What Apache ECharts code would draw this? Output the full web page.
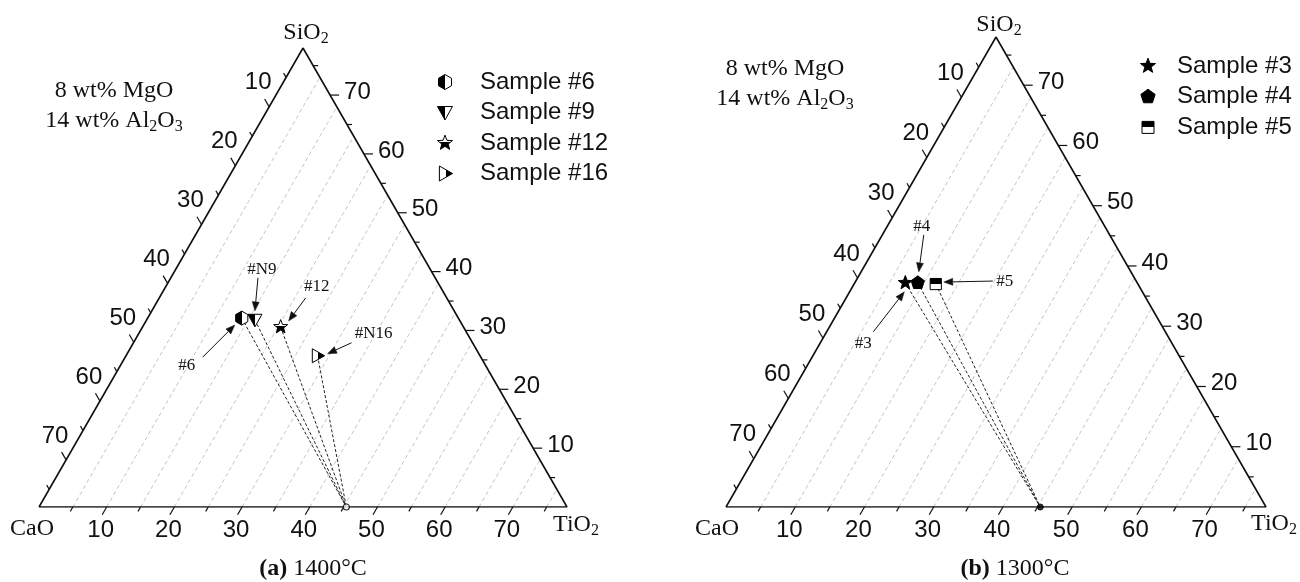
<!DOCTYPE html>
<html>
<head>
<meta charset="utf-8">
<script src="https://cdn.jsdelivr.net/npm/echarts@6/dist/echarts.min.js"></script>
<style>
  html, body { margin: 0; padding: 0; background: #fff; }
  #main { width: 1300px; height: 582px; }
</style>
</head>
<body>
<div id="main"></div>
<script>
// CaO + SiO2 + TiO2 = 78 wt% (MgO 8 and Al2O3 14 are fixed)
const TOTAL = 78
const tickValues = [5, 10, 15, 20, 25, 30, 35, 40, 45, 50, 55, 60, 65, 70, 75]
const tickLabels = ['10', '20', '30', '40', '50', '60', '70']
const vertexNames = ['CaO', 'TiO{s|2}', 'SiO{s|2}']

// (a) 1400°C
const samplesA = ['Sample #6', 'Sample #9', 'Sample #12', 'Sample #16']
const notesA = ['#6', '#N9', '#12', '#N16']
const caoA = [32.0, 30.2, 27.0, 24.0]
const sio2A = [32.1, 31.8, 30.6, 25.7]
const tio2A = [13.9, 16.0, 20.4, 28.3]

// (b) 1300°C
const samplesB = ['Sample #3', 'Sample #4', 'Sample #5']
const notesB = ['#3', '#4', '#5']
const caoB = [33.5, 31.7, 29.2]
const sio2B = [37.2, 37.2, 37.0]
const tio2B = [7.3, 9.1, 11.8]

// point on the CaO-TiO2 side where the tie lines meet (a, b)
const endCaO = [32.6, 32.6]
const endSiO2 = [0, 0]
const endTiO2 = [45.4, 45.4]

// label / arrow placement in px, relative to the marker
const noteLayoutA = [
  {text: [-55, 47], from: [-39, 39], to: [-7, 7]},
  {text: [7, -50], from: [3, -42], to: [0, -9]},
  {text: [36, -40], from: [25, -29], to: [8, -6]},
  {text: [56, -22], from: [34, -13], to: [10, -2]}
]
const noteLayoutB = [
  {text: [-42, 61], from: [-32, 49], to: [-1, 9]},
  {text: [4, -56], from: [6, -48], to: [1, -11]},
  {text: [69, -3], from: [57, -3], to: [8, -2]}
]

const SANS = '"Liberation Sans", Arial, sans-serif'
const SERIF = '"Liberation Serif", "Times New Roman", serif'
const SUB = {fontSize: 16, fontFamily: SERIF, fill: '#111', padding: [12, 0, 0, 0], verticalAlign: 'middle'}

function toXY(cao, sio2, tio2) {
  return [tio2 + sio2 / 2, sio2]
}

function unit(a, b) {
  const dx = b[0] - a[0], dy = b[1] - a[1]
  const d = Math.sqrt(dx * dx + dy * dy)
  return [dx / d, dy / d]
}

function seg(a, b, style) {
  return {type: 'line', shape: {x1: a[0], y1: a[1], x2: b[0], y2: b[1]}, style: style}
}

function txt(text, x, y, align, font, size) {
  return {
    type: 'text',
    style: {
      text: text, x: x, y: y, fill: '#111',
      fontSize: size || 24, fontFamily: font || SANS,
      align: align, verticalAlign: 'middle', textAlign: align, textVerticalAlign: 'middle'
    }
  }
}

function halfFill(vertical, firstBlack) {
  const a = firstBlack ? '#000' : '#fff'
  const b = firstBlack ? '#fff' : '#000'
  return new echarts.graphic.LinearGradient(0, 0, vertical ? 0 : 1, vertical ? 1 : 0, [
    {offset: 0, color: a}, {offset: 0.5, color: a},
    {offset: 0.5, color: b}, {offset: 1, color: b}
  ])
}

function ngon(cx, cy, r, n, rot) {
  const pts = []
  for (let i = 0; i < n; i++) {
    const a = (rot + i * 360 / n) * Math.PI / 180
    pts.push([cx + r * Math.cos(a), cy + r * Math.sin(a)])
  }
  return pts
}

function starPts(cx, cy, r) {
  const pts = []
  for (let i = 0; i < 10; i++) {
    const rr = i % 2 === 0 ? r : r * 0.42
    const a = (-90 + i * 36) * Math.PI / 180
    pts.push([cx + rr * Math.cos(a), cy + rr * Math.sin(a)])
  }
  return pts
}

function markerShape(kind, cx, cy, r) {
  let pts, fill
  if (kind === 'hexHalf') {
    pts = ngon(cx, cy, r, 6, -90); fill = halfFill(false, true)
  } else if (kind === 'triDownHalf') {
    pts = [[cx - r, cy - r * 0.8], [cx + r, cy - r * 0.8], [cx, cy + r]]; fill = halfFill(false, true)
  } else if (kind === 'starHalf') {
    pts = starPts(cx, cy, r * 1.05); fill = halfFill(true, false)
  } else if (kind === 'triRightHalf') {
    pts = [[cx - r * 0.75, cy - r], [cx - r * 0.75, cy + r], [cx + r, cy]]; fill = halfFill(false, false)
  } else if (kind === 'star') {
    pts = starPts(cx, cy, r * 1.05); fill = '#000'
  } else if (kind === 'pentagon') {
    pts = ngon(cx, cy, r, 5, -90); fill = '#000'
  } else {
    const s = r * 0.8
    pts = [[cx - s, cy - s], [cx + s, cy - s], [cx + s, cy + s], [cx - s, cy + s]]; fill = halfFill(true, true)
  }
  return {type: 'polygon', shape: {points: pts}, style: {fill: fill, stroke: '#000', lineWidth: 1}}
}

const panels = [
  {
    grid: {left: 39, top: 48, width: 528, height: 459},
    names: samplesA, notes: notesA, cao: caoA, sio2: sio2A, tio2: tio2A,
    symbols: ['hexHalf', 'triDownHalf', 'starHalf', 'triRightHalf'],
    noteLayout: noteLayoutA,
    endStyle: {color: '#fff', borderColor: '#000', borderWidth: 1.2},
    vertexOffset: [[-7, 22], [9, 18], [3, -15]],
    legend: {x: 445, y: 82, dy: 30.5, textX: 480},
    info: {x: 114, y: 91},
    caption: {x: 313, text: '{b|(a)} 1400°C'}
  },
  {
    grid: {left: 726, top: 37, width: 540, height: 470},
    names: samplesB, notes: notesB, cao: caoB, sio2: sio2B, tio2: tio2B,
    symbols: ['star', 'pentagon', 'squareHalf'],
    noteLayout: noteLayoutB,
    endStyle: {color: '#000', borderColor: '#000', borderWidth: 1},
    vertexOffset: [[-9, 22], [8, 17], [3, -12]],
    legend: {x: 1148, y: 66, dy: 30.7, textX: 1177},
    info: {x: 785, y: 69},
    caption: {x: 1015, text: '{b|(b)} 1300°C'}
  }
]

const tickStyle = {stroke: '#111', lineWidth: 1.2}

function renderAxis(params, api) {
  const v = api.value(0)
  const C = api.coord([0, 0]), T = api.coord([TOTAL, 0]), S = api.coord([TOTAL / 2, TOTAL])
  const dl = unit(C, S)
  const dr = unit(S, T)
  const lab = tickLabels.indexOf(String(v))
  const len = lab >= 0 ? 9 : 5
  const kids = []
  // grid line of constant TiO2
  const b = api.coord(toXY(TOTAL - v, 0, v))
  const top = api.coord(toXY(0, TOTAL - v, v))
  kids.push(seg(b, top, {stroke: '#bdbdbd', lineWidth: 0.9, lineDash: [4, 3]}))
  // TiO2 ticks on the base
  kids.push(seg(b, [b[0] - dl[0] * len, b[1] - dl[1] * len], tickStyle))
  // SiO2 ticks on the right side
  const r = api.coord(toXY(0, v, TOTAL - v))
  kids.push(seg(r, [r[0] + len, r[1]], tickStyle))
  // CaO ticks on the left side
  const l = api.coord(toXY(v, TOTAL - v, 0))
  kids.push(seg(l, [l[0] - dr[0] * len, l[1] - dr[1] * len], tickStyle))
  if (lab >= 0) {
    kids.push(txt(tickLabels[lab], b[0] - 6, b[1] + 23, 'center'))
    kids.push(txt(tickLabels[lab], r[0] + 14, r[1] - 3, 'left'))
    kids.push(txt(tickLabels[lab], l[0] - 11, l[1] - 24, 'center'))
  }
  return {type: 'group', children: kids}
}

const grid = [], xAxis = [], yAxis = [], series = [], graphic = []

panels.forEach(function (p, k) {
  grid.push(p.grid)
  xAxis.push({type: 'value', gridIndex: k, min: 0, max: TOTAL, show: false})
  yAxis.push({type: 'value', gridIndex: k, min: 0, max: TOTAL, show: false})

  const pts = p.names.map(function (n, i) { return toXY(p.cao[i], p.sio2[i], p.tio2[i]) })
  const end = toXY(endCaO[k], endSiO2[k], endTiO2[k])

  series.push({
    type: 'custom', xAxisIndex: k, yAxisIndex: k, clip: false, silent: true, z: 1,
    data: tickValues.map(function (v) { return [v, 0] }),
    renderItem: renderAxis
  })
  // triangle frame
  series.push({
    type: 'line', xAxisIndex: k, yAxisIndex: k, symbol: 'none', silent: true, z: 2,
    lineStyle: {color: '#111', width: 1.6},
    data: [toXY(TOTAL, 0, 0), toXY(0, 0, TOTAL), toXY(0, TOTAL, 0), toXY(TOTAL, 0, 0)]
  })
  // vertex names
  series.push({
    type: 'custom', xAxisIndex: k, yAxisIndex: k, clip: false, silent: true, z: 2,
    data: [toXY(TOTAL, 0, 0), toXY(0, 0, TOTAL), toXY(0, TOTAL, 0)].map(function (d, i) { return [d[0], d[1], i] }),
    renderItem: function (params, api) {
      const c = api.coord([api.value(0), api.value(1)])
      const i = api.value(2)
      const o = p.vertexOffset[i]
      const t = txt(vertexNames[i], c[0] + o[0], c[1] + o[1], 'center', SERIF, 24)
      t.style.lineHeight = 30
      t.style.rich = {s: SUB}
      return t
    }
  })
  // tie lines to the end point
  series.push({
    type: 'lines', coordinateSystem: 'cartesian2d', xAxisIndex: k, yAxisIndex: k, silent: true, z: 3,
    lineStyle: {color: '#222', width: 1, type: [3, 2], opacity: 1},
    data: pts.map(function (d) { return {coords: [d, end]} })
  })
  series.push({
    type: 'scatter', xAxisIndex: k, yAxisIndex: k, silent: true, z: 4,
    symbol: 'circle', symbolSize: 6, itemStyle: p.endStyle,
    data: [end]
  })
  // sample markers
  series.push({
    type: 'custom', xAxisIndex: k, yAxisIndex: k, clip: false, silent: true, z: 5,
    data: pts.map(function (d, i) { return [d[0], d[1], i] }),
    renderItem: function (params, api) {
      const c = api.coord([api.value(0), api.value(1)])
      return markerShape(p.symbols[api.value(2)], c[0], c[1], 7)
    }
  })
  // annotations with arrows
  series.push({
    type: 'custom', xAxisIndex: k, yAxisIndex: k, clip: false, silent: true, z: 6,
    data: pts.map(function (d, i) { return [d[0], d[1], i] }),
    renderItem: function (params, api) {
      const c = api.coord([api.value(0), api.value(1)])
      const i = api.value(2)
      const L = p.noteLayout[i]
      const a = [c[0] + L.from[0], c[1] + L.from[1]]
      const b = [c[0] + L.to[0], c[1] + L.to[1]]
      const u = unit(a, b)
      const hl = 9, hw = 3.5
      const base = [b[0] - u[0] * hl, b[1] - u[1] * hl]
      return {
        type: 'group',
        children: [
          seg(a, base, {stroke: '#111', lineWidth: 1}),
          {type: 'polygon', shape: {points: [b, [base[0] - u[1] * hw, base[1] + u[0] * hw], [base[0] + u[1] * hw, base[1] - u[0] * hw]]},
            style: {fill: '#111', stroke: '#111', lineWidth: 0.5}},
          txt(p.notes[i], c[0] + L.text[0], c[1] + L.text[1], 'center', SERIF, 17)
        ]
      }
    }
  })

  // legend
  p.names.forEach(function (n, i) {
    const y = p.legend.y + i * p.legend.dy
    graphic.push(markerShape(p.symbols[i], p.legend.x, y, 7.5))
    graphic.push({type: 'text', x: p.legend.textX, y: y,
      style: {text: n, fill: '#111', fontSize: 24, fontFamily: SANS,
        align: 'left', verticalAlign: 'middle', textAlign: 'left', textVerticalAlign: 'middle'}})
  })
  // fixed oxides note
  graphic.push({type: 'text', x: p.info.x, y: p.info.y,
    style: {text: '8 wt% MgO\n14 wt% Al{s|2}O{s|3}', fill: '#111', fontSize: 24, fontFamily: SERIF, lineHeight: 30,
      rich: {s: SUB},
      align: 'center', verticalAlign: 'top', textAlign: 'center', textVerticalAlign: 'top'}})
  // caption
  graphic.push({type: 'text', x: p.caption.x, y: 569,
    style: {text: p.caption.text, fill: '#111', fontSize: 24, fontFamily: SERIF,
      rich: {b: {fontSize: 24, fontFamily: SERIF, fontWeight: 'bold', fill: '#111'}},
      align: 'center', verticalAlign: 'middle', textAlign: 'center', textVerticalAlign: 'middle'}})
})

// info text top aligned: shift so the first line centre sits at info.y
graphic.forEach(function (g) {
  if (g.style && g.style.textVerticalAlign === 'top') g.y -= 15
})

const chart = echarts.init(document.getElementById('main'))
chart.setOption({
  animation: false,
  backgroundColor: '#fff',
  grid: grid,
  xAxis: xAxis,
  yAxis: yAxis,
  series: series,
  graphic: {elements: graphic}
})
</script>
</body>
</html>
